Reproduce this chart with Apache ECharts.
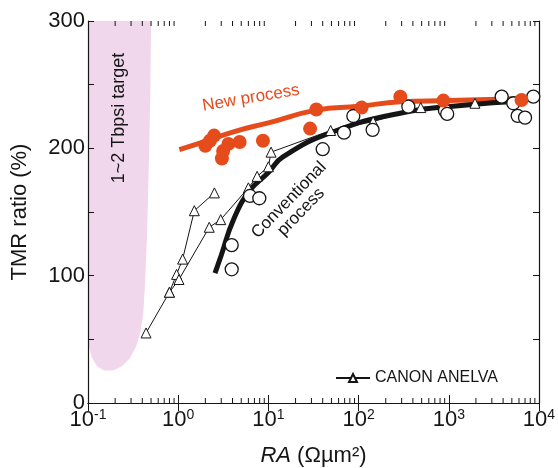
<!DOCTYPE html>
<html lang="en">
<head>
    <meta charset="UTF-8">
    <title>TMR ratio vs RA</title>
    <script src="https://cdn.jsdelivr.net/npm/echarts@6/dist/echarts.min.js"></script>
    <style>
        html, body { margin: 0; padding: 0; background: #fff; }
        #main { width: 558px; height: 468px; }
    </style>
</head>
<body>
    <div id="main"></div>
    <script>
        // 数据
        var newX = [2.0, 2.25, 2.5, 3.05, 3.15, 3.6, 4.8, 8.7, 29, 34, 108, 290, 870, 6400];
        var newY = [202, 206, 210, 192, 198, 203.5, 205, 206, 215.5, 230.5, 232, 240.6, 237.5, 238];

        var convX = [3.92, 3.92, 6.25, 7.93, 40, 68.9, 87.4, 143, 356, 907, 960, 3857, 5190, 5800, 7000, 8650];
        var convY = [105, 124, 162.6, 160.8, 199.3, 212.3, 225.4, 214.5, 232.8, 229.6, 227, 240.6, 235.4, 225.5, 224.1, 240.6];

        // CANON ANELVA, two connected branches
        var anelvaAX = [0.44, 0.8, 0.96, 1.12, 1.51, 2.52];
        var anelvaAY = [55, 87, 101, 113, 151, 165];
        var anelvaBX = [0.8, 1.02, 2.21, 2.96, 6, 7.5, 10, 10.7, 49, 145, 489, 1950];
        var anelvaBY = [87, 97, 138, 144, 169, 178, 185.5, 197, 214, 221, 232, 235.4];

        // fitted curves
        var newFitX = [1.03, 1.74, 4.1, 10, 34, 100, 290, 1000, 6000];
        var newFitY = [199, 204, 213, 220, 230, 233, 236.5, 237.5, 239];
        var convFitX = [2.56, 3, 4.1, 6.25, 10, 14.6, 52.5, 288, 1578, 6000];
        var convFitY = [102, 116, 144, 167, 181, 193.5, 213, 227.6, 234, 237];

        // 1~2 Tbpsi target region outline
        var regionX = [0.1, 0.5, 0.49, 0.47, 0.45, 0.43, 0.41, 0.38, 0.34, 0.29, 0.24, 0.19, 0.15, 0.125, 0.11, 0.102, 0.1];
        var regionY = [300, 300, 240, 180, 130, 95, 70, 55, 44, 35, 29, 25.5, 25.5, 29, 36, 45, 55];

        // log minor ticks
        var decades = [0.1, 1, 10, 100, 1000];
        var minorSteps = [2, 3, 4, 5, 6, 7, 8, 9];

        var FONT = "'Liberation Sans', Arial, sans-serif";
        var RED = '#e64b1c';
        var INK = '#151515';

        function zip(xs, ys) {
            return xs.map(function (x, i) { return [x, ys[i]]; });
        }

        var minorTicks = [];
        decades.forEach(function (d) {
            minorSteps.forEach(function (m) { minorTicks.push([d * m, 150]); });
        });

        var region = zip(regionX, regionY);

        var myChart = echarts.init(document.getElementById('main'));

        var xLabel = {
            margin: 5,
            color: INK,
            formatter: function (v) {
                return '{b|10}{e|' + Math.round(Math.log10(v)) + '}';
            },
            rich: {
                b: { fontSize: 22, fontFamily: FONT, color: INK, lineHeight: 24 },
                e: { fontSize: 14, fontFamily: FONT, color: INK, verticalAlign: 'top', lineHeight: 13 }
            }
        };

        var option = {
            animation: false,
            grid: { left: 88, right: 19, top: 21, bottom: 65, outerBoundsMode: 'none' },
            legend: {
                data: ['CANON ANELVA'],
                left: 330,
                top: 365,
                itemWidth: 34,
                itemHeight: 10,
                textStyle: { fontSize: 16, fontFamily: FONT, color: INK }
            },
            xAxis: [{
                type: 'log',
                logBase: 10,
                min: 0.1,
                max: 10000,
                name: '{i|RA} (\u03A9\u00B5m\u00B2)',
                nameLocation: 'middle',
                nameGap: 42,
                nameTextStyle: {
                    fontSize: 22, fontFamily: FONT, color: INK,
                    rich: { i: { fontSize: 22, fontFamily: FONT, fontStyle: 'italic', color: INK } }
                },
                axisLine: { lineStyle: { color: INK, width: 1.2 } },
                axisTick: { inside: true, length: 8, lineStyle: { color: INK } },
                minorTick: { show: false },
                axisLabel: xLabel,
                splitLine: { show: false }
            }, {
                type: 'log',
                logBase: 10,
                min: 0.1,
                max: 10000,
                position: 'top',
                axisLine: { lineStyle: { color: INK, width: 1.2 } },
                axisTick: { inside: true, length: 8, lineStyle: { color: INK } },
                minorTick: { show: false },
                axisLabel: { show: false },
                splitLine: { show: false }
            }],
            yAxis: [{
                type: 'value',
                min: 0,
                max: 300,
                interval: 50,
                name: 'TMR ratio (%)',
                nameLocation: 'middle',
                nameRotate: 90,
                nameGap: 57,
                nameTextStyle: { fontSize: 22, fontFamily: FONT, color: INK },
                axisLine: { show: true, lineStyle: { color: INK, width: 1.2 } },
                axisTick: { inside: true, length: 6, lineStyle: { color: INK } },
                axisLabel: {
                    margin: 3,
                    fontSize: 22,
                    fontFamily: FONT,
                    color: INK,
                    formatter: function (v) { return v % 100 === 0 ? String(v) : ''; }
                },
                splitLine: { show: false }
            }, {
                type: 'value',
                min: 0,
                max: 300,
                interval: 50,
                position: 'right',
                axisLine: { show: true, lineStyle: { color: INK, width: 1.2 } },
                axisTick: { inside: true, length: 6, lineStyle: { color: INK } },
                axisLabel: { show: false },
                splitLine: { show: false }
            }],
            graphic: [{
                type: 'text',
                x: 119, y: 118,
                rotation: Math.PI / 2,
                style: {
                    text: '1~2 Tbpsi target',
                    fontSize: 18, fontFamily: FONT, fill: INK,
                    align: 'center', verticalAlign: 'middle'
                },
                z: 10
            }, {
                type: 'text',
                x: 251, y: 98,
                rotation: 0.165,
                style: {
                    text: 'New process',
                    fontSize: 17, fontFamily: FONT, fill: RED,
                    align: 'center', verticalAlign: 'middle'
                },
                z: 10
            }, {
                type: 'text',
                x: 295, y: 206,
                rotation: 0.8,
                style: {
                    text: 'Conventional\nprocess',
                    fontSize: 17, fontFamily: FONT, fill: INK, lineHeight: 17,
                    align: 'center', verticalAlign: 'middle'
                },
                z: 10
            }],
            series: [{
                // target band
                name: 'target',
                type: 'custom',
                silent: true,
                z: 0,
                data: region,
                renderItem: function (params, api) {
                    if (params.dataIndex !== 0) return;
                    var pts = region.map(function (p) { return api.coord(p); });
                    return {
                        type: 'polygon',
                        shape: { points: pts },
                        style: { fill: '#f0d7ec', stroke: null }
                    };
                }
            }, {
                // minor log ticks, bottom and top
                name: 'minor',
                type: 'custom',
                silent: true,
                clip: false,
                z: 5,
                data: minorTicks,
                renderItem: function (params, api) {
                    var x = api.coord([api.value(0), 150])[0];
                    var top = params.coordSys.y;
                    var bot = params.coordSys.y + params.coordSys.height;
                    var st = { stroke: INK, lineWidth: 1 };
                    return {
                        type: 'group',
                        children: [
                            { type: 'line', shape: { x1: x, y1: bot, x2: x, y2: bot - 5 }, style: st },
                            { type: 'line', shape: { x1: x, y1: top, x2: x, y2: top + 5 }, style: st }
                        ]
                    };
                }
            }, {
                name: 'new fit',
                type: 'line',
                smooth: true,
                symbol: 'none',
                z: 3,
                lineStyle: { color: RED, width: 5 },
                data: zip(newFitX, newFitY)
            }, {
                name: 'conv fit',
                type: 'line',
                smooth: true,
                symbol: 'none',
                z: 3,
                lineStyle: { color: INK, width: 5 },
                data: zip(convFitX, convFitY)
            }, {
                name: 'CANON ANELVA',
                type: 'line',
                symbol: 'triangle',
                symbolSize: 10,
                z: 4,
                lineStyle: { color: INK, width: 1 },
                itemStyle: { color: '#fff', borderColor: INK, borderWidth: 1 },
                data: zip(anelvaAX, anelvaAY)
            }, {
                name: 'CANON ANELVA',
                type: 'line',
                symbol: 'triangle',
                symbolSize: 10,
                z: 4,
                lineStyle: { color: INK, width: 1 },
                itemStyle: { color: '#fff', borderColor: INK, borderWidth: 1 },
                data: zip(anelvaBX, anelvaBY)
            }, {
                name: 'Conventional process',
                type: 'scatter',
                symbol: 'circle',
                symbolSize: 13,
                z: 6,
                itemStyle: { color: '#fff', borderColor: INK, borderWidth: 1.3, opacity: 1 },
                data: zip(convX, convY)
            }, {
                name: 'New process',
                type: 'scatter',
                symbol: 'circle',
                symbolSize: 14,
                z: 6,
                itemStyle: { color: RED, opacity: 1 },
                data: zip(newX, newY)
            }]
        };

        myChart.setOption(option);
    </script>
</body>
</html>
